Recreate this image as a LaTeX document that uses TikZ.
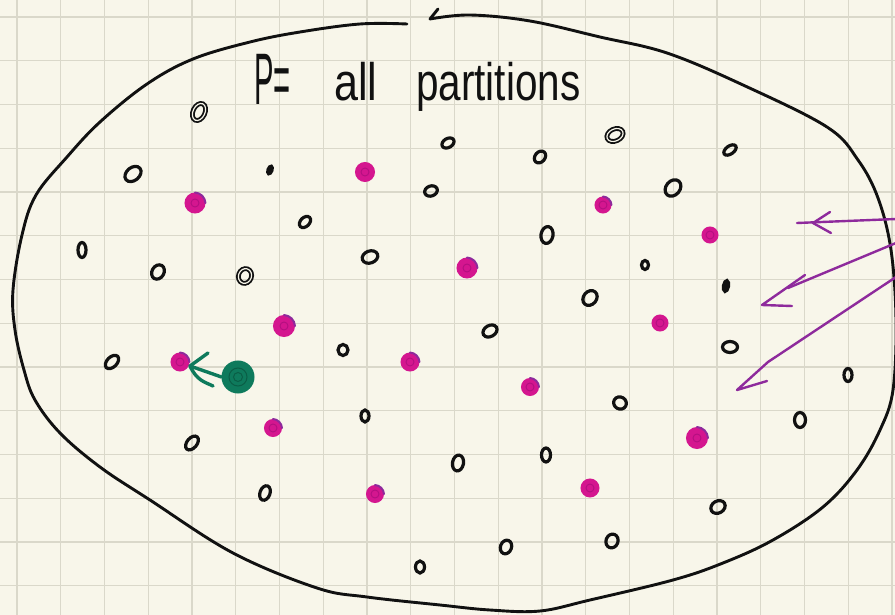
\documentclass[tikz,border=0pt]{standalone}
\usepackage{fontspec}
\setmainfont{Liberation Sans}
\usetikzlibrary{shapes.geometric}
\definecolor{bg}{HTML}{F8F6EA}
\definecolor{gridc}{HTML}{DAD8CA}
\definecolor{ink}{HTML}{111111}
\definecolor{mag}{HTML}{D4168F}
\definecolor{magd}{HTML}{B40F80}
\definecolor{purp}{HTML}{8E2A9C}
\definecolor{gink}{HTML}{0E7A5C}
\definecolor{ginkd}{HTML}{0A5E46}
\tikzset{
  gridline/.style={draw=gridc, line width=1.4pt},
  outline/.style={draw=ink, line width=2.9pt, line cap=round, line join=round},
  bdot/.style={ellipse, draw=ink, line width=3.2pt, inner sep=0pt, minimum width=#1},
  bdot/.default=12pt,
  bring/.style={double=bg, double distance=1.2pt, line width=1.8pt},
  mdot/.style={circle, draw=mag, fill=mag, line width=2pt, inner sep=0pt, minimum size=#1},
  mdot/.default=17pt,
  pstroke/.style={draw=purp, line width=2pt, line cap=round},
  parrow/.style={draw=purp, line width=2.4pt, line cap=round, line join=round},
  garrow/.style={draw=gink, line width=3.4pt, line cap=round, line join=round},
  gdot/.style={circle, draw=gink, fill=gink, line width=2pt, inner sep=0pt, minimum size=31pt},
  hand/.style={inner sep=0pt, text=ink},
}
\begin{document}
\begin{tikzpicture}[x=1pt,y=-1pt]
\useasboundingbox (0,0) rectangle (895,615);
\fill[bg] (0,0) rectangle (895,615);
% grid
\foreach \i in {0,...,20} \draw[gridline] ({17+43.75*\i},0) -- ({17+43.75*\i},615);
\foreach \i in {0,...,13} \draw[gridline] (0,{17+43.75*\i}) -- (895,{17+43.75*\i});
% big closed curve
\coordinate (hk) at (438,9);
\coordinate (cs) at (430,19);
\coordinate (ce) at (407,24);
\draw[outline] (hk) -- (cs);
\draw[outline] plot[smooth, tension=0.6] coordinates {
  (430,19) (470,15) (530,21) (600,37) (667,53) (743,85) (827,127) (858,160)
  (878,198) (891,250) (896,320) (893,390) (880,430) (857,470) (823,507)
  (773,540) (723,563) (673,580) (590,600) (540,611) (490,610) (440,605)
  (367,597) (317,588) (233,553) (150,500) (100,467) (60,433) (35,400)
  (24,370) (15,330) (13,290) (22,235) (36,195) (67,157) (100,122) (147,84)
  (193,59) (250,42) (300,32) (360,24) (407,24)};
% title
\node[hand, anchor=base west] (tP) at (254,105) {\scalebox{0.4}[1]{\fontsize{73}{73}\selectfont P=}};
\node[hand, anchor=base west] (tall) at (334,101) {\scalebox{0.98}[1.2]{\fontsize{44}{44}\selectfont all}};
\node[hand, anchor=base west] (tpart) at (416,101) {\scalebox{0.92}[1.2]{\fontsize{44}{44}\selectfont partitions}};
% black dots
\node[bdot, bring, minimum height=18pt, rotate=-25] (b1) at (199,112) {};
\node[bdot=13pt, minimum height=18pt, rotate=-50] (b2) at (133,174) {};
\node[bdot=4pt, minimum height=8pt, fill=ink, rotate=-20] (b3) at (270,170) {};
\node[bdot=9pt, minimum height=13pt, rotate=-45] (b4) at (305,222) {};
\node[bdot=8pt, minimum height=15pt] (b5) at (82,250) {};
\node[bdot=12pt, minimum height=15pt, rotate=-30] (b6) at (158,272) {};
\node[bdot=13pt, bring, minimum height=15pt, rotate=-20] (b7) at (245,276) {};
\node[bdot=16pt, minimum height=12pt, rotate=20] (b8) at (370,257) {};
\node[bdot=13pt, minimum height=9pt, rotate=30] (b9) at (448,143) {};
\node[bdot=10pt, minimum height=13pt, rotate=-40] (b10) at (540,157) {};
\node[bdot=17pt, minimum height=12pt, bring, rotate=25] (b11) at (615,135) {};
\node[bdot=14pt, minimum height=8pt, rotate=35] (b12) at (730,150) {};
\node[bdot=14pt, minimum height=18pt, rotate=-40] (b13) at (673,188) {};
\node[bdot=13pt, minimum height=10pt, rotate=20] (b14) at (431,191) {};
\node[bdot=12pt, minimum height=17pt, rotate=-10] (b15) at (547,235) {};
\node[bdot=7pt, minimum height=9pt] (b16) at (645,265) {};
\node[bdot=13pt, minimum height=16pt, rotate=-40] (b17) at (590,298) {};
\node[bdot=5pt, minimum height=11pt, fill=ink, rotate=-10] (b18) at (726,286) {};
\node[bdot=15pt, minimum height=11pt, rotate=30] (b19) at (490,331) {};
\node[bdot=10pt, minimum height=11pt] (b20) at (343,350) {};
\node[bdot=15pt, minimum height=11pt] (b21) at (730,347) {};
\node[bdot=10pt, minimum height=16pt, rotate=-45] (b22) at (112,362) {};
\node[bdot=8pt, minimum height=12pt] (b23) at (365,416) {};
\node[bdot=13pt, minimum height=12pt, rotate=-30] (b24) at (620,403) {};
\node[bdot=8pt, minimum height=13pt] (b25) at (848,375) {};
\node[bdot=11pt, minimum height=15pt] (b26) at (800,420) {};
\node[bdot=10pt, minimum height=16pt, rotate=-40] (b27) at (192,443) {};
\node[bdot=11pt, minimum height=16pt, rotate=-10] (b28) at (458,463) {};
\node[bdot=9pt, minimum height=14pt] (b29) at (546,455) {};
\node[bdot=10pt, minimum height=15pt, rotate=-20] (b30) at (265,493) {};
\node[bdot=15pt, minimum height=12pt, rotate=30] (b31) at (718,507) {};
\node[bdot=9pt, minimum height=12pt] (b32) at (420,567) {};
\node[bdot=11pt, minimum height=14pt, rotate=-20] (b33) at (506,547) {};
\node[bdot=12pt, minimum height=14pt, rotate=-20] (b34) at (612,541) {};
% magenta dots
\node[mdot=18pt] (m1) at (365,172) {};
\node[mdot=19pt] (m2) at (195,203) {};
\node[mdot=17pt] (m3) at (180,362) {};
\node[mdot=20pt] (m4) at (284,326) {};
\node[mdot=15pt] (m5) at (603,205) {};
\node[mdot=15pt] (m6) at (710,235) {};
\node[mdot=19pt] (m7) at (467,268) {};
\node[mdot=15pt] (m8) at (660,323) {};
\node[mdot=17pt] (m9) at (410,362) {};
\node[mdot=16pt] (m10) at (530,387) {};
\node[mdot=16pt] (m11) at (273,428) {};
\node[mdot=20pt] (m12) at (697,438) {};
\node[mdot=16pt] (m13) at (375,494) {};
\node[mdot=17pt] (m14) at (590,488) {};
\foreach \n in {m1,m2,m3,m4,m5,m6,m7,m8,m9,m10,m11,m12,m13,m14}
  \draw[draw=magd, line width=0.9pt] (\n.center) circle (4pt);
\foreach \n in {m2,m3,m4,m5,m7,m9,m10,m11,m12,m13}
  \draw[pstroke] (\n.north) to[bend left=40] (\n.east);
% green dot and arrow
\node[gdot] (g) at (238,377) {};
\draw[draw=ginkd, line width=1pt] (g.center) circle (9pt) (g.center) circle (4.5pt);
\coordinate (gt) at (190,366);
\coordinate (gu) at (208,353);
\coordinate (gl) at (213,386);
\draw[garrow] (g.west) -- (gt);
\draw[garrow] (gu) -- (gt) .. controls (197,381) and (205,382) .. (gl);
% purple arrows
\coordinate (a1s) at (896,219);
\coordinate (a1e) at (797,223);
\coordinate (a1u) at (830,212);
\coordinate (a1t) at (813,223);
\coordinate (a1l) at (831,233);
\draw[parrow] (a1s) -- (a1e);
\draw[parrow] (a1u) -- (a1t) -- (a1l);
\coordinate (a2s) at (896,243);
\coordinate (a2e) at (788,288);
\coordinate (a2u) at (805,275);
\coordinate (a2t) at (762,305);
\coordinate (a2l) at (792,306);
\draw[parrow] (a2s) -- (a2e);
\draw[parrow] (a2u) -- (a2t) -- (a2l);
\coordinate (a3s) at (896,277);
\coordinate (a3e) at (768,362);
\coordinate (a3t) at (737,390);
\coordinate (a3l) at (767,381);
\draw[parrow] (a3s) -- (a3e);
\draw[parrow] (a3e) -- (a3t) -- (a3l);
\end{tikzpicture}
\end{document}
